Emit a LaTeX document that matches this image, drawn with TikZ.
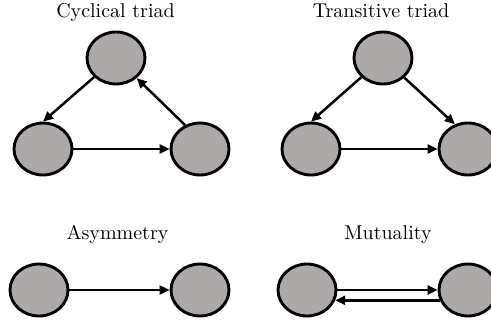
\documentclass[tikz,border=0pt]{standalone}
\usetikzlibrary{arrows.meta,shapes.geometric}
\definecolor{nodegrey}{RGB}{173,169,169}
\begin{document}
\begin{tikzpicture}[x=0.5pt,y=-0.5pt,
  actor/.style={ellipse,draw=black,fill=nodegrey,line width=1.45pt,
    minimum width=29pt,minimum height=26pt,inner sep=0pt},
  tie/.style={line width=1.25pt,-{Triangle[length=5pt,width=4.5pt]}},
  caption/.style={anchor=base,font=\normalsize}]
\useasboundingbox (0,0) rectangle (491,327);
\begin{scope}
  \clip (0,0) rectangle (491,327);

  % Cyclical triad
  \node[caption] (t1) at (115.5,17) {Cyclical triad};
  \node[actor] (ct) at (116,58) {};
  \node[actor] (cl) at (43,149) {};
  \node[actor] (cr) at (200,149) {};
  \draw[tie] (ct) -- (cl.north);
  \draw[tie] (cl) -- (cr);
  \draw[tie] (cr.122) -- (ct);

  % Transitive triad
  \node[caption] (t2) at (381,17) {Transitive triad};
  \node[actor] (tt) at (383,58) {};
  \node[actor] (tl) at (311,149) {};
  \node[actor] (tr) at (468,149) {};
  \draw[tie] (tt) -- (tl.north);
  \draw[tie] (tt) -- (tr.118);
  \draw[tie] (tl) -- (tr);

  % Asymmetry
  \node[caption] (t3) at (117.5,239) {Asymmetry};
  \node[actor] (al) at (39,290) {};
  \node[actor] (ar) at (200,290) {};
  \draw[tie] (al) -- (ar);

  % Mutuality
  \node[caption] (t4) at (388,239) {Mutuality};
  \node[actor] (ml) at (307,290) {};
  \node[actor] (mr) at (468,290) {};
  \draw[tie] (ml) -- (mr);
  \draw[tie] (mr.200) -- (ml.-20);
\end{scope}
\end{tikzpicture}
\end{document}
